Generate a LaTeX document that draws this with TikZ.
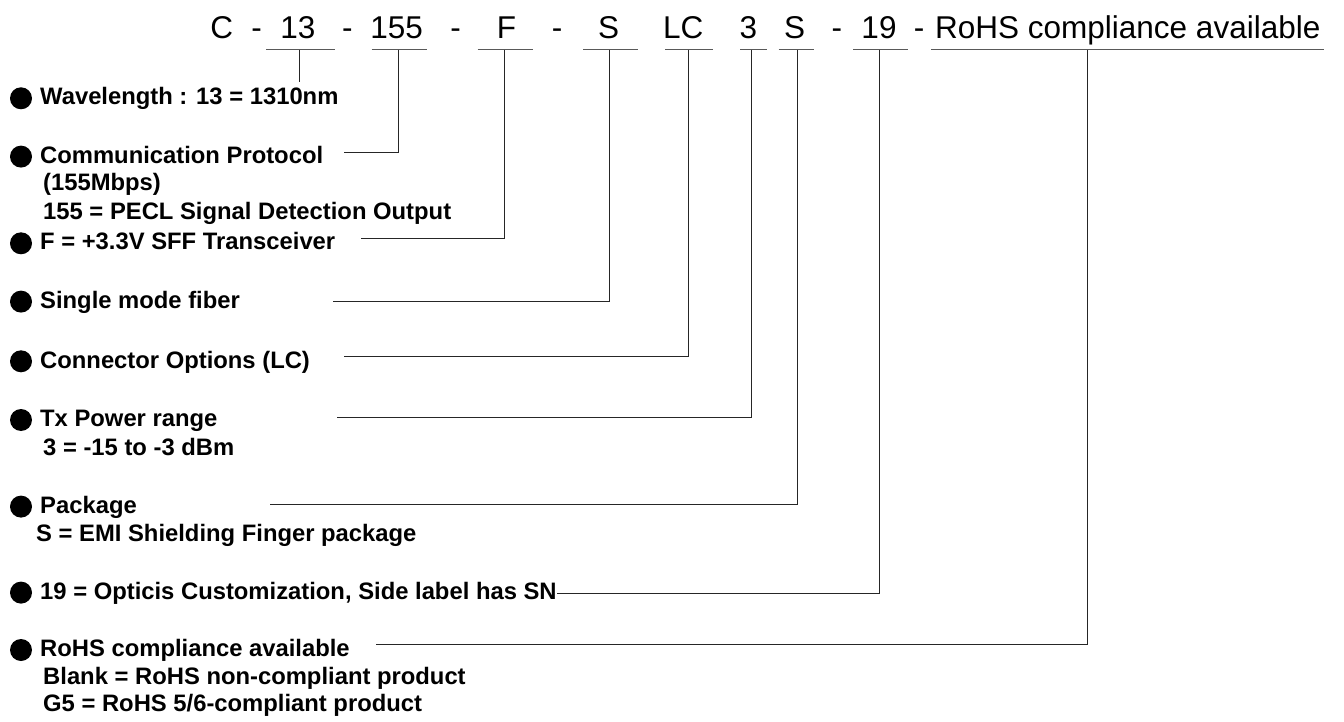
\documentclass[tikz,border=0pt]{standalone}
\usepackage{fontspec}
\setmainfont{Liberation Sans}
\tikzset{
  code/.style={anchor=base, inner sep=0pt, font=\fontsize{31.5}{36}\selectfont},
  item/.style={anchor=base west, inner sep=0pt, font=\bfseries\fontsize{23.8}{28}\selectfont},
  dot/.style={circle, fill=black, inner sep=0pt, minimum size=22pt},
  uline/.style={black!65, line width=1pt},
  lead/.style={black!85, line width=1pt},
}
\begin{document}
\begin{tikzpicture}[x=1pt,y=-1pt]
\useasboundingbox (0,0) rectangle (1344,722);
% part number
\node[code] (kC) at (221.7,38.5) {C};
\node[code] (d1) at (256.7,38.5) {-};
\node[code] (k13) at (297.8,38.5) {13};
\node[code] (d2) at (347.3,38.5) {-};
\node[code] (k155) at (396.7,38.5) {155};
\node[code] (d3) at (455.5,38.5) {-};
\node[code] (kF) at (506.5,38.5) {F};
\node[code] (d4) at (557,38.5) {-};
\node[code] (kS) at (608.5,38.5) {S};
\node[code] (kLC) at (683.3,38.5) {LC};
\node[code] (k3) at (748.3,38.5) {3};
\node[code] (kPk) at (794.5,38.5) {S};
\node[code] (d5) at (836.8,38.5) {-};
\node[code] (k19) at (879,38.5) {19};
\node[code] (d6) at (919,38.5) {-};
\node[code,anchor=base west] (kRoHS) at (935,38.5) {RoHS compliance available};
% underlines
\draw[uline] (266,50) -- (335,50);
\draw[uline] (371.7,50) -- (426.7,50);
\draw[uline] (477.7,50) -- (532.7,50);
\draw[uline] (583.3,50) -- (638,50);
\draw[uline] (665,50) -- (712.7,50);
\draw[uline] (740,50) -- (766.7,50);
\draw[uline] (778.7,50) -- (814,50);
\draw[uline] (853.3,50) -- (908.3,50);
\draw[uline] (931,50) -- (1324,50);
\coordinate (t13) at (299.3,50);
\coordinate (t155) at (398.7,50);
\coordinate (tF) at (504,50);
\coordinate (tS) at (609.3,50);
\coordinate (tLC) at (688.3,50);
\coordinate (t3) at (751.7,50);
\coordinate (tPk) at (797.3,50);
\coordinate (t19) at (879.3,50);
\coordinate (tRoHS) at (1087.7,50);
% items
\node[dot] (b13) at (21,98.3) {};
\node[item] (i13) at (40,105) {Wavelength : 13 = 1310nm};
\node[dot] (b155) at (21,156.6) {};
\node[item] (i155) at (40,163.3) {Communication Protocol};
\node[item] (i155b) at (43,191) {(155Mbps)};
\node[item] (i155c) at (43,219.3) {155 = PECL Signal Detection Output};
\node[dot] (bF) at (21,243.3) {};
\node[item] (iF) at (40,250) {F = +3.3V SFF Transceiver};
\node[dot] (bS) at (21,301.6) {};
\node[item] (iS) at (40,308.3) {Single mode fiber};
\node[dot] (bLC) at (21,361.3) {};
\node[item] (iLC) at (40,368) {Connector Options (LC)};
\node[dot] (b3) at (21,420) {};
\node[item] (i3) at (40,426.7) {Tx Power range};
\node[item] (i3b) at (43,455) {3 = -15 to -3 dBm};
\node[dot] (bPk) at (21,506.6) {};
\node[item] (iPk) at (40,513.3) {Package};
\node[item] (iPkb) at (36,541.7) {S = EMI Shielding Finger package};
\node[dot] (b19) at (21,592.6) {};
\node[item] (i19) at (40,599.3) {19 = Opticis Customization, Side label has SN};
\node[dot] (bRoHS) at (21,650) {};
\node[item] (iRoHS) at (40,656.7) {RoHS compliance available};
\node[item] (iRoHSb) at (43,684.3) {Blank = RoHS non-compliant product};
\node[item] (iRoHSc) at (43,711.7) {G5 = RoHS 5/6-compliant product};
% leaders
\coordinate (e13) at (299.3,82);
\coordinate (e155) at (344,152.3);
\coordinate (eF) at (360.7,239);
\coordinate (eS) at (333.3,301.7);
\coordinate (eLC) at (344.3,356);
\coordinate (e3) at (337.3,417.7);
\coordinate (ePk) at (270,504.3);
\coordinate (eRoHS) at (376,644);
\draw[lead] (t13) -- (e13);
\draw[lead] (t155) |- (e155);
\draw[lead] (tF) |- (eF);
\draw[lead] (tS) |- (eS);
\draw[lead] (tLC) |- (eLC);
\draw[lead] (t3) |- (e3);
\draw[lead] (tPk) |- (ePk);
\draw[lead] (t19) |- (i19.east);
\draw[lead] (tRoHS) |- (eRoHS);
\end{tikzpicture}
\end{document}
